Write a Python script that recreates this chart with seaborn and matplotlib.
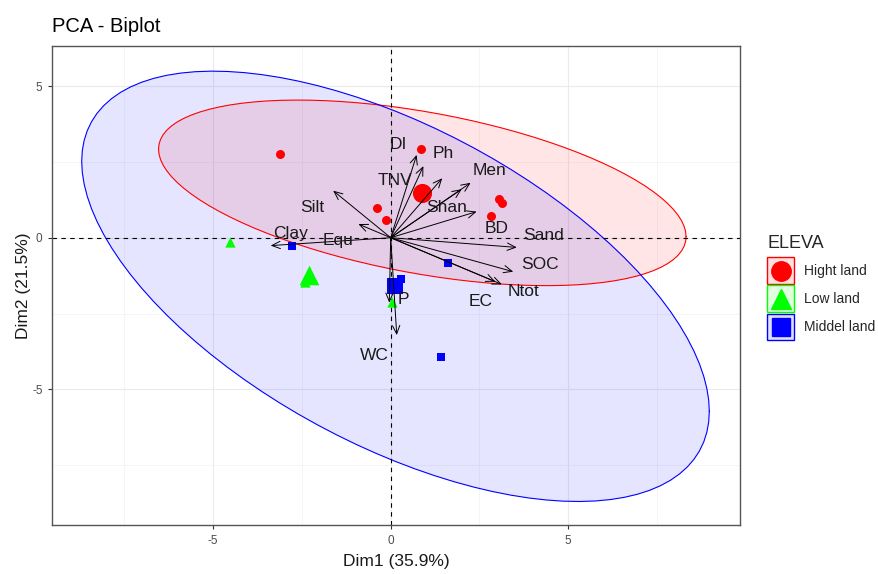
import numpy as np
import pandas as pd
import seaborn as sns
import matplotlib.pyplot as plt
from matplotlib.lines import Line2D
from matplotlib.patches import Rectangle
from matplotlib.legend_handler import HandlerBase

GROUPS = ['Hight land', 'Low land', 'Middel land']
COLORS = {'Hight land': '#FF0000', 'Low land': '#00FF00', 'Middel land': '#0000FF'}
MARKERS = {'Hight land': 'o', 'Low land': '^', 'Middel land': 's'}

# individuals (Dim1, Dim2)
hight_x = [-3.12, 0.85, -0.38, -0.13, 3.06, 3.13, 2.82]
hight_y = [2.75, 2.91, 0.97, 0.58, 1.27, 1.15, 0.72]
low_x = [-4.52, -2.41, 0.03]
low_y = [-0.13, -1.45, -2.11]
middel_x = [-2.77, 1.61, 1.41, 0.29]
middel_y = [-0.26, -0.84, -3.94, -1.37]

# variables (arrow tips)
var_names = ['DI', 'Ph', 'TNV', 'Men', 'Shan', 'BD', 'Silt', 'Equ', 'Clay',
             'Sand', 'SOC', 'Ntot', 'EC', 'P', 'WC']
var_x = [0.73, 0.92, 1.45, 2.25, 2.00, 2.42, -1.62, -0.91, -3.38,
         3.55, 3.45, 3.13, 2.95, -0.04, 0.17]
var_y = [2.73, 2.36, 1.96, 1.81, 1.60, 0.86, 1.55, 0.45, -0.26,
         -0.32, -1.12, -1.54, -1.45, -2.14, -3.21]
# where the (repelled) labels ended up
lab_x = [0.21, 1.48, 0.12, 2.78, 1.58, 2.99, -2.20, -1.48, -2.81,
         4.30, 4.21, 3.75, 2.52, 0.36, -0.47]
lab_y = [3.06, 2.78, 1.90, 2.23, 1.00, 0.31, 1.00, -0.10, 0.15,
         0.07, -0.87, -1.76, -2.11, -2.05, -3.87]

ind = pd.DataFrame({
    'Dim1': hight_x + low_x + middel_x,
    'Dim2': hight_y + low_y + middel_y,
    'ELEVA': ['Hight land'] * len(hight_x) + ['Low land'] * len(low_x)
             + ['Middel land'] * len(middel_x),
})
centers = ind.groupby('ELEVA', as_index=False)[['Dim1', 'Dim2']].mean()


def norm_ellipse(x, y, level=0.95, segments=101):
    # same as ggplot2 stat_ellipse(type = "norm")
    n = len(x)
    dfd = n - 1
    if dfd < 3:
        return None
    cov = np.cov(x, y)
    center = np.array([np.mean(x), np.mean(y)])
    qf = (dfd / 2) * ((1 - level) ** (-2 / dfd) - 1)  # F quantile, dfn = 2
    radius = np.sqrt(2 * qf)
    t = np.linspace(0, 2 * np.pi, segments)
    unit = np.column_stack([np.cos(t), np.sin(t)])
    chol = np.linalg.cholesky(cov).T
    return center + radius * unit @ chol


class BoxKey(HandlerBase):
    # ggplot-like key: tinted box with a marker in the middle
    def create_artists(self, legend, orig, xdescent, ydescent, width, height,
                       fontsize, trans):
        c = orig.get_color()
        box = Rectangle((-xdescent, -ydescent), width, height, facecolor=c,
                        alpha=0.12, lw=0, transform=trans)
        edge = Rectangle((-xdescent, -ydescent), width, height, facecolor='none',
                         edgecolor=c, lw=1, transform=trans)
        dot = Line2D([-xdescent + width / 2], [-ydescent + height / 2], ls='',
                     marker=orig.get_marker(), color=c,
                     markersize=orig.get_markersize(), transform=trans)
        return [box, edge, dot]


sns.set_theme(style='white')
plt.rcParams['font.family'] = ['Liberation Sans', 'DejaVu Sans']
plt.rcParams['axes.unicode_minus'] = False

fig = plt.figure(figsize=(8.79, 5.74), dpi=100)
ax = fig.add_axes([0.0595, 0.0854, 0.7825, 0.835])

for g in GROUPS:
    sub = ind[ind['ELEVA'] == g]
    el = norm_ellipse(sub['Dim1'].values, sub['Dim2'].values)
    if el is None:
        continue
    ax.fill(el[:, 0], el[:, 1], color=COLORS[g], alpha=0.1, lw=0, zorder=1)
    ax.plot(el[:, 0], el[:, 1], color=COLORS[g], lw=0.8, zorder=1.5)

ax.axhline(0, color='black', ls=(0, (4, 4)), lw=0.8, zorder=2)
ax.axvline(0, color='black', ls=(0, (4, 4)), lw=0.8, zorder=2)

sizes = {'Hight land': 42, 'Low land': 55, 'Middel land': 40}
for g in GROUPS:
    sns.scatterplot(data=ind[ind['ELEVA'] == g], x='Dim1', y='Dim2',
                    color=COLORS[g], marker=MARKERS[g], s=sizes[g],
                    linewidth=0, ax=ax, zorder=3, legend=False)

big = {'Hight land': 190, 'Low land': 200, 'Middel land': 140}
for g in GROUPS:
    sns.scatterplot(data=centers[centers['ELEVA'] == g], x='Dim1', y='Dim2',
                    color=COLORS[g], marker=MARKERS[g], s=big[g],
                    linewidth=0, ax=ax, zorder=4, legend=False)

for name, vx, vy, lx, ly in zip(var_names, var_x, var_y, lab_x, lab_y):
    ax.annotate('', xy=(vx, vy), xytext=(0, 0), zorder=5,
                arrowprops=dict(arrowstyle='->,head_length=0.5,head_width=0.22',
                                color='black', lw=0.7, shrinkA=0, shrinkB=0))
    ax.text(lx, ly, name, ha='center', va='center', fontsize=12.5,
            color='#1A1A1A', zorder=6)

ax.set_xlim(-9.53, 9.84)
ax.set_ylim(-9.47, 6.33)
ax.set_xticks([-5, 0, 5])
ax.set_yticks([-5, 0, 5])
ax.set_xticks([-7.5, -2.5, 2.5, 7.5], minor=True)
ax.set_yticks([-7.5, -2.5, 2.5], minor=True)
ax.grid(which='major', color='#EBEBEB', lw=0.8, zorder=0)
ax.grid(which='minor', color='#F2F2F2', lw=0.5, zorder=0)
ax.set_axisbelow(True)
ax.tick_params(which='major', length=3, width=0.8, color='#333333',
               labelsize=8.5, labelcolor='#4D4D4D', pad=4,
               bottom=True, left=True)
ax.tick_params(which='minor', length=0)
for s in ax.spines.values():
    s.set_color('#555555')
    s.set_linewidth(1)

ax.set_xlabel('Dim1 (35.9%)', fontsize=12.5, color='#1A1A1A', labelpad=5)
ax.set_ylabel('Dim2 (21.5%)', fontsize=12.5, color='#1A1A1A', labelpad=1)
ax.set_title('PCA - Biplot', loc='left', fontsize=14.5, color='black', pad=10)

handles = [Line2D([], [], ls='', marker=MARKERS[g], color=COLORS[g],
                  markersize=14 if g != 'Middel land' else 12.5)
           for g in GROUPS]
leg = fig.legend(handles, GROUPS, title='ELEVA', loc='upper left',
                 bbox_to_anchor=(0.873, 0.591), frameon=False,
                 fontsize=10, title_fontsize=13, handlelength=1.92,
                 handleheight=2.55, labelspacing=0.12, handletextpad=0.75,
                 borderpad=0, borderaxespad=0, alignment='left',
                 handler_map={Line2D: BoxKey()})
leg._legend_box.sep = 4

fig.savefig('out.png', dpi=100)
